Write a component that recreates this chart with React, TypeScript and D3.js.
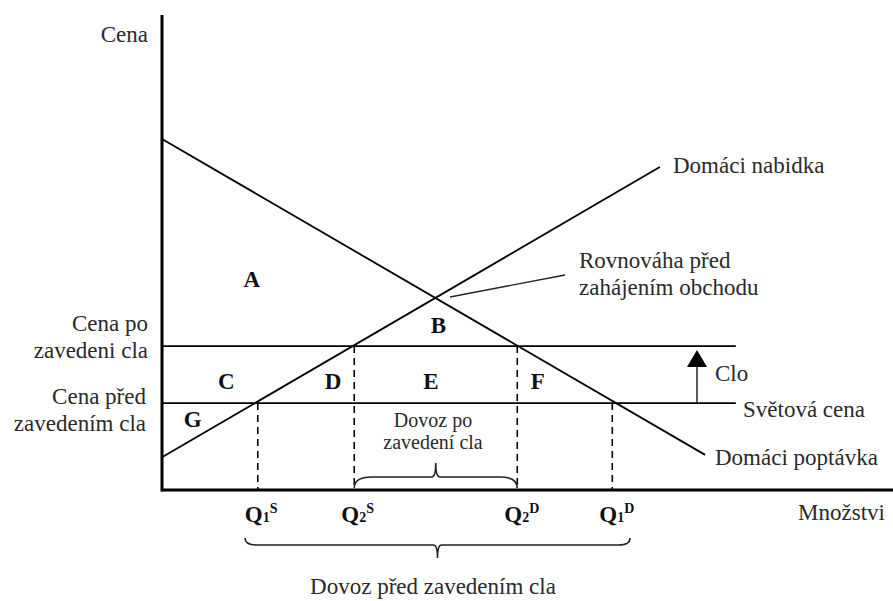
import React from "react";
import * as d3 from "d3";

// Quantity / price units
const supplyLine: [number, number][] = [[0, 6.9], [68.1, 68.0]];
const demandLine: [number, number][] = [[0, 73.9], [74.3, 7.4]];
const worldPrice = 18.3;
const tariffPrice = 30.3;
const priceLineEnd = 78.5;
const qLabels = ["Q1S", "Q2S", "Q2D", "Q1D"];
const qMain = ["1", "2", "2", "1"];
const qSup = ["S", "S", "D", "D"];
const qValues = [13.1, 26.3, 48.6, 61.6];
const qPriceLevel = [worldPrice, tariffPrice, tariffPrice, worldPrice];
const areaLetters = ["A", "B", "C", "D", "E", "F", "G"];
const areaQ = [12.3, 37.8, 8.8, 23.4, 36.8, 51.4, 4.2];
const areaP = [42.7, 33.1, 21.3, 21.3, 21.3, 21.3, 13.3];

const W = 893, H = 601;
const x = d3.scaleLinear().domain([0, 100]).range([162, 893]);
const y = d3.scaleLinear().domain([0, 100]).range([490, 15]);

const FONT = "'Liberation Serif', 'Times New Roman', serif";
const TXT = "#2a2a2a";

function hBrace(x1: number, x2: number, yBase: number, yLine: number, yTip: number) {
  // brace with ends at yBase, main line at yLine, central tip at yTip
  const xm = (x1 + x2) / 2;
  const dir = yLine < yBase ? -1 : 1;
  const r = Math.abs(yBase - yLine);
  const p = d3.path();
  p.moveTo(x1, yBase);
  p.quadraticCurveTo(x1, yLine, x1 + r * 1.6, yLine);
  p.lineTo(xm - 4, yLine);
  p.quadraticCurveTo(xm, yLine, xm, yTip);
  p.quadraticCurveTo(xm, yLine, xm + 4, yLine);
  p.lineTo(x2 - r * 1.6, yLine);
  p.quadraticCurveTo(x2, yLine, x2, yBase);
  void dir;
  return p.toString();
}

export default function App() {
  const line = d3.line<[number, number]>().x(d => x(d[0])).y(d => y(d[1]));
  const fs = 23;
  return (
    <svg width={W} height={H} style={{ position: "absolute", left: 0, top: 0, background: "#fff" }}
      fontFamily={FONT}>
      {/* axes */}
      <line x1={x(0)} y1={y(100)} x2={x(0)} y2={y(0) + 1.5} stroke="#000" strokeWidth={3} />
      <line x1={x(0)} y1={y(0)} x2={x(100)} y2={y(0)} stroke="#000" strokeWidth={3} />

      {/* price lines */}
      <line x1={x(0)} y1={y(tariffPrice)} x2={x(priceLineEnd)} y2={y(tariffPrice)} stroke="#000" strokeWidth={1.8} />
      <line x1={x(0)} y1={y(worldPrice)} x2={x(priceLineEnd)} y2={y(worldPrice)} stroke="#000" strokeWidth={1.8} />

      {/* supply & demand */}
      <path d={line(supplyLine) || ""} fill="none" stroke="#000" strokeWidth={1.8} />
      <path d={line(demandLine) || ""} fill="none" stroke="#000" strokeWidth={1.8} />

      {/* dashed verticals */}
      {qValues.map((q, i) => (
        <line key={qLabels[i]} x1={x(q)} x2={x(q)} y1={y(qPriceLevel[i])} y2={y(0)}
          stroke="#000" strokeWidth={1.6} strokeDasharray="7,5" />
      ))}

      {/* tariff arrow */}
      <line x1={697} x2={697} y1={y(worldPrice)} y2={y(tariffPrice) + 14} stroke="#333" strokeWidth={1.6} />
      <path d={`M697,${y(tariffPrice) + 4} L687,${y(tariffPrice) + 21} L707,${y(tariffPrice) + 21} Z`} fill="#000" />

      {/* leader line */}
      <line x1={565} y1={275} x2={450} y2={297} stroke="#222" strokeWidth={1.3} />

      {/* braces */}
      <path d={hBrace(x(qValues[1]), x(qValues[2]), 488, 477, 463)} fill="none" stroke="#222" strokeWidth={1.6} />
      <path d={hBrace(245, 630, 538, 545, 558)} fill="none" stroke="#222" strokeWidth={1.6} />

      {/* area letters */}
      {areaLetters.map((l, i) => (
        <text key={l} x={x(areaQ[i])} y={y(areaP[i])} fontSize={fs} fontWeight="bold" fill="#111" textAnchor="middle">{l}</text>
      ))}

      {/* Q labels */}
      {qValues.map((q, i) => (
        <text key={qLabels[i] + "t"} x={x(q) - 13} y={522} fontWeight="bold" fill="#111" fontSize={fs}>
          Q<tspan fontSize={14}>{qMain[i]}</tspan><tspan fontSize={14} dy={-9}>{qSup[i]}</tspan>
        </text>
      ))}

      {/* texts */}
      <g fill={TXT} fontSize={fs}>
        <text x={148} y={42} textAnchor="end">Cena</text>
        <text x={148} y={331} textAnchor="end">Cena po</text>
        <text x={148} y={358} textAnchor="end">zavedeni cla</text>
        <text x={146} y={404} textAnchor="end">Cena před</text>
        <text x={146} y={431} textAnchor="end">zavedením cla</text>
        <text x={673} y={173}>Domáci nabidka</text>
        <text x={579} y={268}>Rovnováha před</text>
        <text x={579} y={295}>zahájením obchodu</text>
        <text x={715} y={381}>Clo</text>
        <text x={743} y={417}>Světová cena</text>
        <text x={715} y={465}>Domáci poptávka</text>
        <text x={885} y={520} textAnchor="end">Množstvi</text>
        <text x={433} y={427} textAnchor="middle" fontSize={20}>Dovoz po</text>
        <text x={433} y={449} textAnchor="middle" fontSize={20}>zavedení cla</text>
        <text x={433} y={594} textAnchor="middle">Dovoz před zavedením cla</text>
      </g>
    </svg>
  );
}
